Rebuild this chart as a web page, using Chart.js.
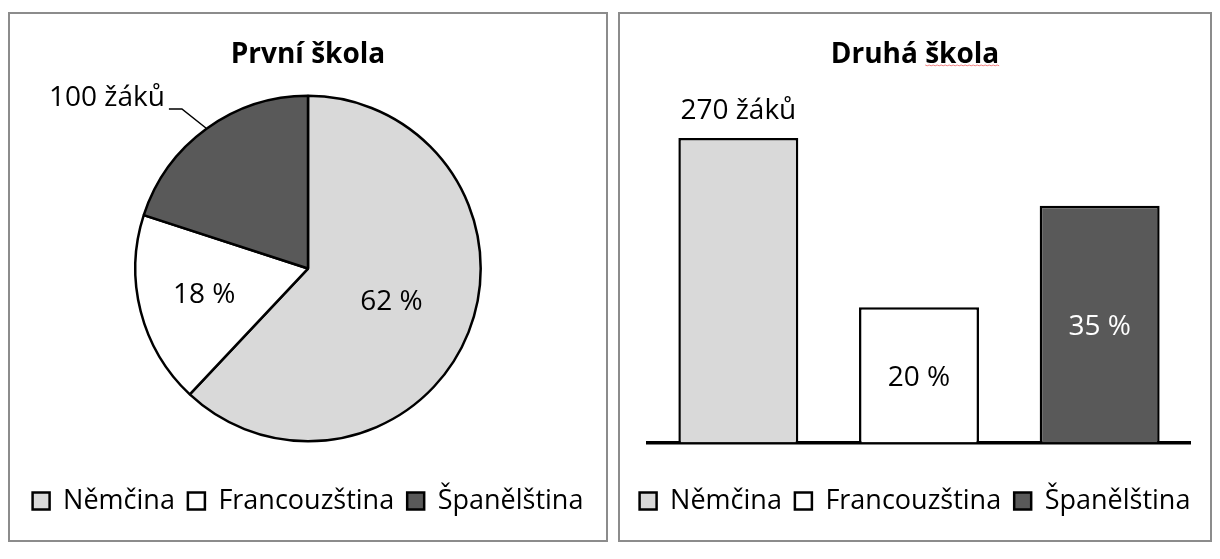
<!DOCTYPE html>
<html>
<head>
<meta charset="utf-8">
<script src="https://cdn.jsdelivr.net/npm/chart.js@4/dist/chart.umd.min.js"></script>
<style>
  body { margin: 0; background: #fff; width: 1220px; height: 559px; position: relative; overflow: hidden; }
  .panel { position: absolute; top: 12px; height: 530px; border: 2px solid #8c8c8c; box-sizing: border-box; }
  canvas { position: absolute; }
</style>
</head>
<body>
<div class="panel" style="left:8px; width:600px;"></div>
<div class="panel" style="left:618px; width:594px;"></div>
<canvas id="pieChart" width="596" height="526" style="left:10px; top:14px;"></canvas>
<canvas id="barChart" width="590" height="526" style="left:620px; top:14px;"></canvas>
<script>
const languages = ['Němčina', 'Francouzština', 'Španělština'];
const colors = ['#d9d9d9', '#ffffff', '#595959'];

// První škola - shares in %
const firstSchool = [62, 18, 20];
const firstLabels = ['62 %', '18 %', '100 žáků'];

// Druhá škola - shares in %
const secondSchool = [45, 20, 35];
const secondLabels = ['270 žáků', '20 %', '35 %'];

Chart.defaults.font.family = "'Open Sans', sans-serif";
Chart.defaults.color = '#000';

const fontMain = "'Open Sans', sans-serif";

// writes the value labels on the slices / bars
const valueLabels = {
    id: 'valueLabels',
    afterDatasetsDraw(chart, args, opts) {
        const ctx = chart.ctx;
        const meta = chart.getDatasetMeta(0);
        ctx.save();
        ctx.font = '28px ' + fontMain;
        ctx.textBaseline = 'middle';
        meta.data.forEach((el, i) => {
            const text = opts.texts[i];
            const place = opts.place[i];
            ctx.fillStyle = opts.colors[i];
            ctx.textAlign = 'center';
            if (chart.config.type === 'pie') {
                const p = el.getProps(['x', 'y', 'startAngle', 'endAngle', 'outerRadius'], true);
                const mid = (p.startAngle + p.endAngle) / 2;
                if (place === 'callout') {
                    const ex = p.x + Math.cos(mid) * (p.outerRadius + 1);
                    const ey = p.y + Math.sin(mid) * (p.outerRadius + 1);
                    const kx = ex - 24, ky = ey - 19;
                    ctx.strokeStyle = '#000';
                    ctx.lineWidth = 1.5;
                    ctx.beginPath();
                    ctx.moveTo(ex, ey);
                    ctx.lineTo(kx, ky);
                    ctx.lineTo(kx - 13, ky);
                    ctx.stroke();
                    ctx.textAlign = 'right';
                    ctx.fillText(text, kx - 17, ky - 11);
                } else {
                    const f = opts.factor[i];
                    ctx.fillText(text, p.x + Math.cos(mid) * p.outerRadius * f, p.y + Math.sin(mid) * p.outerRadius * f);
                }
            } else {
                const p = el.getProps(['x', 'y', 'base'], true);
                if (place === 'end') {
                    ctx.fillText(text, p.x, p.y - 27);
                } else {
                    ctx.fillText(text, p.x, (p.y + p.base) / 2 + 3);
                }
            }
        });
        ctx.restore();
    }
};

// red spell-check squiggle under "škola" in the second title
const squiggle = {
    id: 'squiggle',
    afterDraw(chart) {
        const t = chart.titleBlock;
        const ctx = chart.ctx;
        ctx.save();
        ctx.font = 'bold 28px ' + fontMain;
        const full = ctx.measureText('Druhá škola').width;
        const first = ctx.measureText('Druhá ').width;
        const cx = (t.left + t.right) / 2;
        const x0 = cx - full / 2 + first;
        const x1 = cx + full / 2;
        const y = 51;
        ctx.strokeStyle = '#f08080';
        ctx.lineWidth = 1;
        ctx.beginPath();
        for (let x = x0, k = 0; x <= x1; x += 2, k++) {
            const yy = y + (k % 2 ? 0.8 : 0);
            if (k === 0) ctx.moveTo(x, yy); else ctx.lineTo(x, yy);
        }
        ctx.stroke();
        ctx.restore();
    }
};

function legendOptions() {
    return {
        position: 'bottom',
        title: { display: true, text: ' ', font: { size: 10 }, padding: { top: 0, bottom: 20 } },
        labels: {
            boxWidth: 17,
            boxHeight: 17,
            padding: 13,
            font: { size: 27 },
            color: '#000',
            generateLabels: () => languages.map((lang, i) => ({
                text: lang,
                fillStyle: colors[i],
                strokeStyle: '#000',
                lineWidth: 2.5,
                hidden: false,
                index: i
            }))
        }
    };
}

function titleOptions(text, bottom) {
    return {
        display: true,
        text: text,
        color: '#000',
        font: { size: 28, weight: 'bold' },
        padding: { top: 24, bottom: bottom }
    };
}

// empty side axis that only reserves a fixed width
function spacerAxis(pos, w) {
    return {
        position: pos,
        min: 0,
        max: 50,
        grid: { display: false, drawTicks: false },
        border: { display: false },
        ticks: { display: false },
        afterFit: scale => { scale.width = w; }
    };
}

new Chart(document.getElementById('pieChart'), {
    type: 'pie',
    data: {
        labels: languages,
        datasets: [{
            data: firstSchool,
            backgroundColor: colors,
            borderColor: '#000',
            borderWidth: 2.5
        }]
    },
    options: {
        responsive: false,
        animation: false,
        devicePixelRatio: 1,
        layout: { padding: { top: 0, bottom: 15.5, left: 0, right: 0 } },
        plugins: {
            title: titleOptions('První škola', 23),
            legend: legendOptions(),
            tooltip: { enabled: false },
            valueLabels: {
                texts: firstLabels,
                colors: ['#000', '#000', '#000'],
                place: ['inside', 'inside', 'callout'],
                factor: [0.52, 0.62, 0.6]
            }
        }
    },
    plugins: [valueLabels]
});

new Chart(document.getElementById('barChart'), {
    type: 'bar',
    data: {
        labels: languages,
        datasets: [{
            data: secondSchool,
            backgroundColor: colors,
            borderColor: '#000',
            borderWidth: 2.5,
            categoryPercentage: 1,
            barPercentage: 0.664
        }]
    },
    options: {
        responsive: false,
        animation: false,
        devicePixelRatio: 1,
        layout: { padding: { top: 0, bottom: 15.5, left: 0, right: 0 } },
        scales: {
            x: {
                grid: { display: false, drawTicks: false },
                border: { display: true, color: '#000', width: 3.5 },
                ticks: { display: false }
            },
            y: spacerAxis('left', 28),
            yRight: spacerAxis('right', 20)
        },
        plugins: {
            title: titleOptions('Druhá škola', 32.6),
            legend: legendOptions(),
            tooltip: { enabled: false },
            valueLabels: {
                texts: secondLabels,
                colors: ['#000', '#000', '#fff'],
                place: ['end', 'center', 'center']
            }
        }
    },
    plugins: [valueLabels, squiggle]
});
</script>
</body>
</html>
